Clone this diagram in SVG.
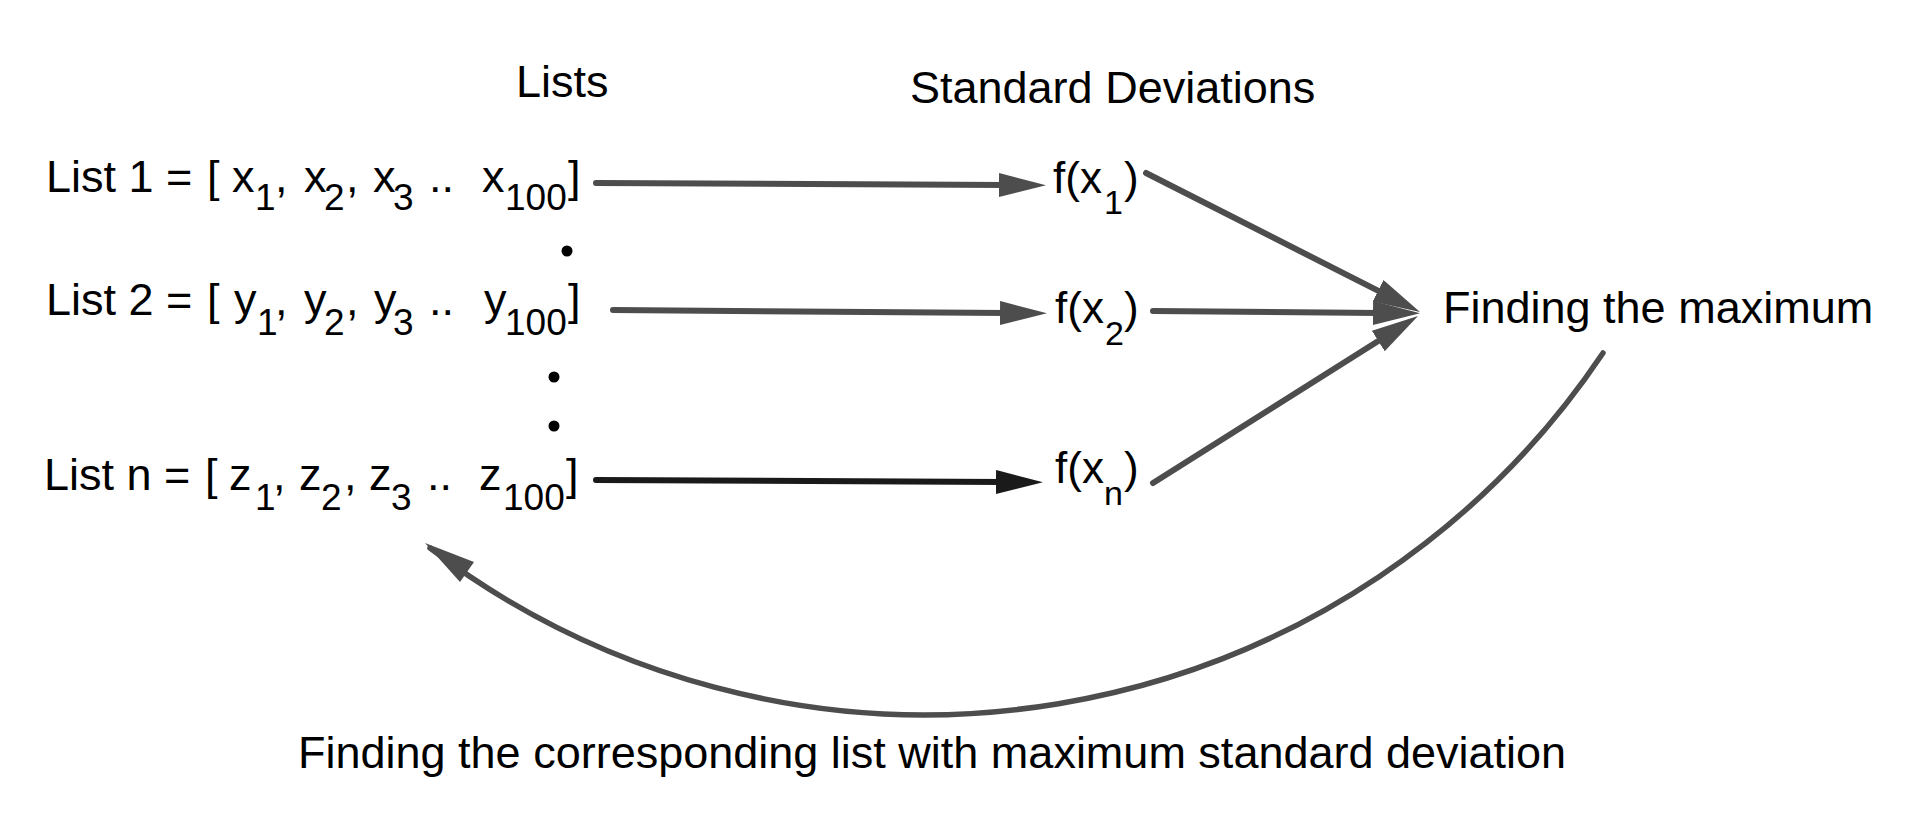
<svg xmlns="http://www.w3.org/2000/svg" width="1914" height="822" viewBox="0 0 1914 822">
<style>
text{font-family:"Liberation Sans",Arial,Helvetica,sans-serif;fill:#000;font-size:45px}
.sub{font-size:37px}
.fx{font-size:44px}
.fsub{font-size:34px}
.ln{fill:none;stroke:#4d4d4d;stroke-width:6;stroke-linecap:round}
.dk{stroke:#1a1a1a}
.dot{fill:#000}
</style>
<defs>
<marker id="ah" markerUnits="userSpaceOnUse" markerWidth="50" markerHeight="26" refX="7" refY="12" orient="auto">
<path d="M0,0 L47,12 L0,24 z" fill="#4d4d4d"/>
</marker>
<marker id="ahd" markerUnits="userSpaceOnUse" markerWidth="50" markerHeight="26" refX="7" refY="12" orient="auto">
<path d="M0,0 L47,12 L0,24 z" fill="#1a1a1a"/>
</marker>
</defs>
<g id="headers">
<text x="516" y="97">Lists</text>
<text x="910" y="103">Standard Deviations</text>
</g>
<g id="list1">
<text><tspan x="46" y="192">List 1 =</tspan><tspan x="207" y="192">[</tspan><tspan x="232" y="192">x</tspan><tspan class="sub" x="255" y="210">1</tspan><tspan x="275" y="192">,</tspan><tspan x="304" y="192">x</tspan><tspan class="sub" x="324" y="210">2</tspan><tspan x="346" y="192">,</tspan><tspan x="373" y="192">x</tspan><tspan class="sub" x="393" y="210">3</tspan><tspan x="429" y="192">..</tspan><tspan x="482" y="192">x</tspan><tspan class="sub" x="505" y="210">100</tspan><tspan x="568" y="192">]</tspan></text>
</g>
<g id="list2">
<text><tspan x="46" y="315">List 2 =</tspan><tspan x="207" y="315">[</tspan><tspan x="234" y="315">y</tspan><tspan class="sub" x="257" y="335">1</tspan><tspan x="275" y="315">,</tspan><tspan x="304" y="315">y</tspan><tspan class="sub" x="324" y="335">2</tspan><tspan x="346" y="315">,</tspan><tspan x="374" y="315">y</tspan><tspan class="sub" x="393" y="335">3</tspan><tspan x="429" y="315">..</tspan><tspan x="484" y="315">y</tspan><tspan class="sub" x="505" y="335">100</tspan><tspan x="568" y="315">]</tspan></text>
</g>
<g id="listn">
<text><tspan x="44" y="490">List n =</tspan><tspan x="205" y="490">[</tspan><tspan x="229" y="490">z</tspan><tspan class="sub" x="255" y="510">1</tspan><tspan x="273" y="490">,</tspan><tspan x="299" y="490">z</tspan><tspan class="sub" x="321" y="510">2</tspan><tspan x="344" y="490">,</tspan><tspan x="369" y="490">z</tspan><tspan class="sub" x="391" y="510">3</tspan><tspan x="427" y="490">..</tspan><tspan x="479" y="490">z</tspan><tspan class="sub" x="503" y="510">100</tspan><tspan x="566" y="490">]</tspan></text>
</g>
<g id="ellipsis">
<circle class="dot" cx="567" cy="251" r="5.5"/>
<circle class="dot" cx="554" cy="377" r="5.5"/>
<circle class="dot" cx="554" cy="426" r="5.5"/>
</g>
<g id="fx1">
<text class="fx"><tspan x="1053" y="193">f(x</tspan><tspan class="fsub" x="1104" y="214">1</tspan><tspan x="1124" y="193">)</tspan></text>
</g>
<g id="fx2">
<text class="fx"><tspan x="1055" y="323">f(x</tspan><tspan class="fsub" x="1105" y="345">2</tspan><tspan x="1124" y="323">)</tspan></text>
</g>
<g id="fxn">
<text class="fx"><tspan x="1055" y="483">f(x</tspan><tspan class="fsub" x="1104" y="505">n</tspan><tspan x="1124" y="483">)</tspan></text>
</g>
<g id="max">
<text x="1443" y="323">Finding the maximum</text>
</g>
<g id="result">
<text x="298" y="768">Finding the corresponding list with maximum standard deviation</text>
</g>
<g id="connectors">
<line class="ln" x1="596" y1="183" x2="1006" y2="185" marker-end="url(#ah)"/>
<line class="ln" x1="613" y1="310" x2="1007" y2="313" marker-end="url(#ah)"/>
<line class="ln dk" x1="596" y1="480" x2="1003" y2="482" marker-end="url(#ahd)"/>
<line class="ln" x1="1146" y1="173" x2="1384.3" y2="293.9" marker-end="url(#ah)"/>
<line class="ln" x1="1153" y1="311" x2="1380" y2="313" marker-end="url(#ah)"/>
<line class="ln" x1="1153" y1="483" x2="1384.2" y2="337.3" marker-end="url(#ah)"/>
<path class="ln" style="stroke-width:5.5" d="M1603,353 A817,817 0 0 1 430,548"/>
<polygon points="425,543 474,562 460,582" fill="#4d4d4d"/>
</g>
</svg>
